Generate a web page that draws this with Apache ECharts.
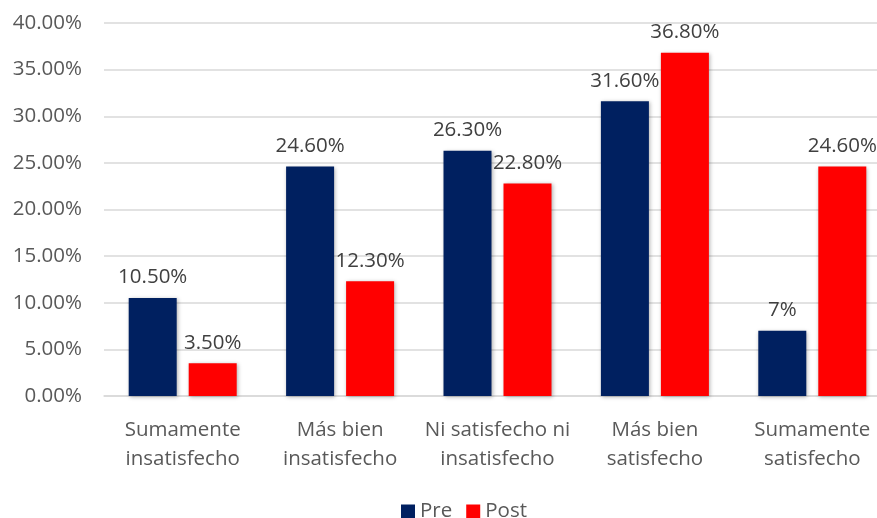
<!DOCTYPE html>
<html>
<head>
<meta charset="utf-8">
<script src="https://cdn.jsdelivr.net/npm/echarts@6/dist/echarts.min.js"></script>
<style>
    html, body { margin: 0; padding: 0; background: #fff; overflow: hidden; }
    #main { width: 905px; height: 518px; }
</style>
</head>
<body>
<div id="main"></div>
<script>
/*数据*/
var categories = ['Sumamente\ninsatisfecho', 'Más bien\ninsatisfecho', 'Ni satisfecho ni\ninsatisfecho', 'Más bien\nsatisfecho', 'Sumamente\nsatisfecho'];
var preValues = [10.5, 24.6, 26.3, 31.6, 7];
var postValues = [3.5, 12.3, 22.8, 36.8, 24.6];
var preLabels = ['10.50%', '24.60%', '26.30%', '31.60%', '7%'];
var postLabels = ['3.50%', '12.30%', '22.80%', '36.80%', '24.60%'];

var textColor = '#595959';
var fontName = 'Open Sans';
var fontSize = 20.5;

function labelFrom(list) {
    return function (p) { return list[p.dataIndex]; };
}

var myChart = echarts.init(document.getElementById('main'));
var option = {
    animation: false,
    textStyle: { fontFamily: fontName },
    // 图表右侧在原图中被裁掉，所以容器比窗口宽
    grid: { left: 104, width: 787, top: 23, height: 373, outerBoundsMode: 'none' },
    legend: {
        left: 396,
        top: 496,
        itemWidth: 14,
        itemHeight: 14,
        itemGap: 14,
        icon: 'rect',
        textStyle: { color: textColor, fontSize: fontSize, fontFamily: fontName },
        data: ['Pre', 'Post']
    },
    xAxis: {
        type: 'category',
        data: categories,
        axisLine: { lineStyle: { color: '#d9d9d9', width: 1.5 } },
        axisTick: { show: false },
        axisLabel: { color: textColor, fontSize: fontSize, lineHeight: 29, margin: 20, interval: 0 }
    },
    yAxis: {
        type: 'value',
        min: 0,
        max: 40,
        interval: 5,
        axisLine: { show: false },
        axisTick: { show: false },
        splitLine: { lineStyle: { color: '#d9d9d9', width: 1.5 } },
        axisLabel: {
            color: textColor, fontSize: fontSize, margin: 22,
            formatter: function (v) { return v.toFixed(2) + '%'; }
        }
    },
    series: [
        {
            name: 'Pre',
            type: 'bar',
            data: preValues,
            barWidth: 48,
            barGap: '25%',
            itemStyle: {
                color: '#002060',
                shadowBlur: 4, shadowColor: 'rgba(0,0,0,0.3)', shadowOffsetX: 1, shadowOffsetY: 1
            },
            label: {
                show: true, position: 'top', distance: 10,
                color: '#404040', fontSize: fontSize,
                formatter: labelFrom(preLabels)
            }
        },
        {
            name: 'Post',
            type: 'bar',
            data: postValues,
            barWidth: 48,
            itemStyle: {
                color: '#ff0000',
                shadowBlur: 4, shadowColor: 'rgba(0,0,0,0.3)', shadowOffsetX: 1, shadowOffsetY: 1
            },
            label: {
                show: true, position: 'top', distance: 10,
                color: '#404040', fontSize: fontSize,
                formatter: labelFrom(postLabels)
            }
        }
    ]
};
myChart.setOption(option);
</script>
</body>
</html>
